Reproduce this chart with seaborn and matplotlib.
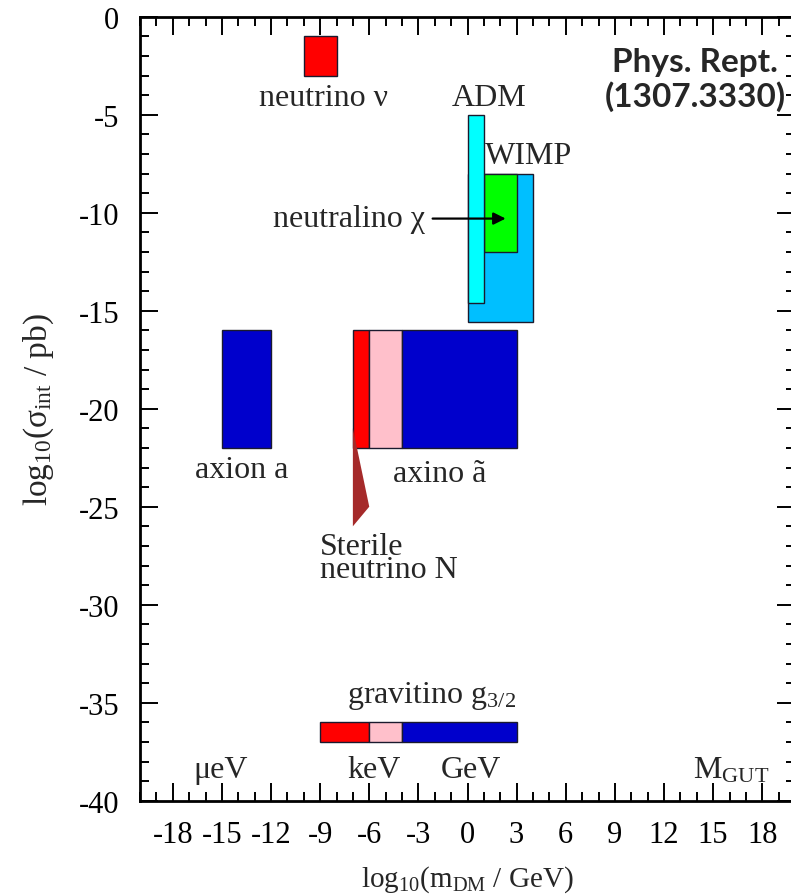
import matplotlib
matplotlib.use("Agg")
import matplotlib.pyplot as plt
import seaborn as sns
import numpy as np

# Dark matter candidate regions: log10 mass range (GeV) and log10 cross-section range (pb)
box_names = ["neutrino", "WIMP", "neutralino", "ADM", "axion",
             "axino_keV", "axino_mid", "axino_GeV",
             "gravitino_keV", "gravitino_mid", "gravitino_GeV"]
mass_lo = [-10, 0, 1, 0, -15, -7, -6, -4, -9, -6, -4]
mass_hi = [-8, 4, 3, 1, -12, -6, -4, 3, -6, -4, 3]
sigma_lo = [-3, -15.6, -12, -14.6, -22, -22, -22, -22, -37, -37, -37]
sigma_hi = [-1, -8, -8, -5, -16, -16, -16, -16, -36, -36, -36]
box_colors = ["#ff0000", "#00bfff", "#00ff00", "#00ffff", "#0000cc",
              "#ff0000", "#ffc0cb", "#0000cc",
              "#ff0000", "#ffc0cb", "#0000cc"]

# Sterile neutrino wedge
sterile_mass = [-7, -6, -7]
sterile_sigma = [-21, -25, -26]

# Tick labels
x_ticks = list(range(-18, 19, 3))
y_ticks = list(range(0, -41, -5))

sns.set_theme(style="ticks")
plt.rcParams["font.family"] = ["Liberation Serif", "DejaVu Serif"]
plt.rcParams["mathtext.fontset"] = "custom"
plt.rcParams["mathtext.rm"] = "Liberation Serif"
plt.rcParams["mathtext.it"] = "Liberation Serif:italic"

fig = plt.figure(figsize=(7.91, 8.95), dpi=100)
ax = fig.add_axes([140 / 791, 93.3 / 895, 655 / 791, 784 / 895])

widths = np.array(mass_hi) - np.array(mass_lo)
heights = np.array(sigma_hi) - np.array(sigma_lo)
ax.bar(mass_lo, heights, width=widths, bottom=sigma_lo, align="edge",
       color=box_colors, edgecolor="#1a1a2e", linewidth=1.0, zorder=2)

ax.fill(sterile_mass, sterile_sigma, color="#a52a2a", linewidth=0, zorder=3)

ax.annotate("", xy=(2.5, -10.3), xytext=(-2.3, -10.3),
            arrowprops=dict(arrowstyle="-|>", color="black", lw=1.6,
                            mutation_scale=18), zorder=4)

fs = 23
ax.text(-8.8, -4.1, "neutrino ν", ha="center", va="center", fontsize=fs)
ax.text(1.3, -4.1, "ADM", ha="center", va="center", fontsize=fs)
ax.text(3.7, -7.1, "WIMP", ha="center", va="center", fontsize=fs)
ax.text(-2.6, -10.3, "neutralino χ", ha="right", va="center", fontsize=fs)
ax.text(-13.8, -23.1, "axion a", ha="center", va="center", fontsize=fs)
ax.text(-1.7, -23.3, "axino ã", ha="center", va="center", fontsize=fs)
ax.text(-9.0, -27.6, "Sterile\nneutrino N", ha="left", va="center",
        fontsize=fs, linespacing=0.72)
ax.text(-2.2, -34.6, r"gravitino g$_{3/2}$", ha="center", va="center", fontsize=fs)
ax.text(-15.1, -38.4, "μeV", ha="center", va="center", fontsize=fs)
ax.text(-5.7, -38.4, "keV", ha="center", va="center", fontsize=fs)
ax.text(0.2, -38.4, "GeV", ha="center", va="center", fontsize=fs)
ax.text(16.1, -38.4, r"M$_{\rm GUT}$", ha="center", va="center", fontsize=fs)

fig.text(695 / 791, 1 - 80 / 895, "Phys. Rept.\n(1307.3330)", ha="center",
         va="center", fontsize=24, fontweight="bold", family=["Lato", "DejaVu Sans"],
         linespacing=1.2, multialignment="center")

ax.set_xlim(-20, 20)
ax.set_ylim(-40, 0)
ax.set_xticks(x_ticks)
ax.set_xticklabels([str(t) for t in x_ticks])
ax.set_xticks(np.arange(-20, 21, 1), minor=True)
ax.set_yticks(y_ticks)
ax.set_yticklabels([str(t) for t in y_ticks])
ax.set_yticks(np.arange(-40, 1, 1), minor=True)

ax.tick_params(which="both", direction="in", top=True, right=True,
               colors="black", width=1.4)
ax.tick_params(which="major", length=13)
ax.tick_params(which="minor", length=6.5)
ax.tick_params(axis="x", which="major", pad=14, labelsize=22)
ax.tick_params(axis="y", which="major", pad=15, labelsize=22)
for sp in ax.spines.values():
    sp.set_linewidth(2.0)
    sp.set_color("black")

ax.set_xlabel(r"log$_{10}$(m$_{\rm DM}$ / GeV)", fontsize=21, labelpad=10)
ax.set_ylabel(r"log$_{10}$(σ$_{\rm int}$ / pb)", fontsize=24, labelpad=16)
ax.grid(False)

fig.savefig("out.png", dpi=100)
